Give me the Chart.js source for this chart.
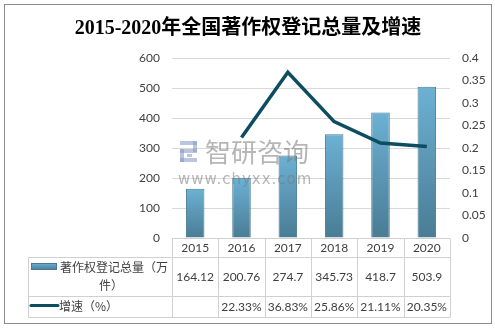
<!DOCTYPE html>
<html>
<head>
<meta charset="utf-8">
<script src="https://cdn.jsdelivr.net/npm/chart.js@4/dist/chart.umd.min.js"></script>
<style>
  html, body { margin: 0; padding: 0; background: #ffffff; }
  canvas { display: block; }
</style>
</head>
<body>
<canvas id="c" width="495" height="328"></canvas>
<script>
// Copyright registrations nationwide, 2015-2020
const years = ['2015', '2016', '2017', '2018', '2019', '2020'];
const totals = [164.12, 200.76, 274.7, 345.73, 418.7, 503.9];     // 万件
const growth = [null, 22.33, 36.83, 25.86, 21.11, 20.35];          // %
const titleText = '2015-2020年全国著作权登记总量及增速';
const seriesNames = ['著作权登记总量（万', '件）'];
const growthName = '增速（%）';

const TEXT = '#404040';
const GRID = '#d9d9d9';
const TABLE_LINE = '#d0d0d0';
const LINE_COLOR = '#0d4d62';
const NUM_FONT = '"Lato", "Liberation Sans", sans-serif';
const CJK_FONT = '"Noto Sans CJK SC", sans-serif';

// each bar fades from light blue at its top to a deeper tone at its base
function barGradient(ctx) {
  const chart = ctx.chart;
  const area = chart.chartArea;
  if (!area || ctx.type !== 'data') return '#5b9bbb';
  const yScale = chart.scales.y;
  const topY = yScale.getPixelForValue(ctx.raw);
  const g = chart.ctx.createLinearGradient(0, topY, 0, area.bottom);
  g.addColorStop(0, '#6cb1d4');
  g.addColorStop(1, '#4a7c94');
  return g;
}

const frameAndTitle = {
  id: 'frameAndTitle',
  beforeDraw(chart) {
    const ctx = chart.ctx;
    ctx.save();
    ctx.fillStyle = '#ffffff';
    ctx.fillRect(0, 0, chart.width, chart.height);
    ctx.restore();
  },
  afterDraw(chart) {
    const ctx = chart.ctx;
    ctx.save();
    ctx.strokeStyle = '#8c8c8c';
    ctx.lineWidth = 1;
    ctx.strokeRect(4.5, 4.5, 487, 319);
    ctx.fillStyle = '#000000';
    ctx.font = 'bold 20px "Liberation Serif", "Noto Sans CJK SC", serif';
    ctx.textAlign = 'center';
    ctx.textBaseline = 'middle';
    ctx.fillText(titleText, 248, 29);
    ctx.restore();
  }
};

const watermark = {
  id: 'watermark',
  afterDatasetsDraw(chart) {
    const ctx = chart.ctx;
    ctx.save();
    ctx.globalAlpha = 0.55;
    // logo blocks
    ctx.fillStyle = '#8496c4';
    ctx.fillRect(180, 141, 17, 4);
    ctx.fillRect(193, 141, 4, 11);
    ctx.fillRect(180, 149, 17, 4);
    ctx.fillRect(180, 149, 4, 13);
    ctx.fillRect(180, 158, 17, 4);
    ctx.fillRect(187, 154, 5, 3);
    ctx.fillStyle = '#7a7a7a';
    ctx.font = '26px "Noto Sans CJK SC", sans-serif';
    ctx.textAlign = 'left';
    ctx.textBaseline = 'middle';
    ctx.fillText('智研咨询', 205, 152);
    ctx.font = '15px "DejaVu Sans", sans-serif';
    ctx.letterSpacing = '1px';
    ctx.fillText('www.chyxx.com', 178, 180);
    ctx.restore();
  }
};

const dataTable = {
  id: 'dataTable',
  afterDraw(chart) {
    const ctx = chart.ctx;
    const xs = chart.scales.x;
    const area = chart.chartArea;
    const colW = (area.right - area.left) / years.length;
    const top = area.bottom + 0.5;
    const r1 = 257.5, r2 = 296.5, r3 = 317.5;
    const leftEdge = 28.5;
    ctx.save();
    ctx.strokeStyle = TABLE_LINE;
    ctx.lineWidth = 1;
    ctx.beginPath();
    ctx.moveTo(area.left, top); ctx.lineTo(area.right, top);
    [r1, r2, r3].forEach(y => { ctx.moveTo(leftEdge, y); ctx.lineTo(area.right, y); });
    ctx.moveTo(leftEdge, r1); ctx.lineTo(leftEdge, r3);
    for (let i = 0; i <= years.length; i++) {
      const x = Math.round(area.left + i * colW) + 0.5;
      ctx.moveTo(x, top); ctx.lineTo(x, r3);
    }
    ctx.stroke();

    ctx.fillStyle = TEXT;
    ctx.textAlign = 'center';
    ctx.textBaseline = 'middle';
    ctx.font = '12px ' + NUM_FONT;
    years.forEach((y, i) => {
      const cx = xs.getPixelForValue(i);
      ctx.fillText(y, cx, 248);
      ctx.fillText(String(totals[i]), cx, 277);
      if (growth[i] !== null) ctx.fillText(growth[i].toFixed(2) + '%', cx, 307);
    });

    // row headers with legend keys
    const sw = ctx.createLinearGradient(0, 263, 0, 270);
    sw.addColorStop(0, '#6cb1d4');
    sw.addColorStop(1, '#4a7c94');
    ctx.fillStyle = sw;
    ctx.fillRect(31, 263.5, 26, 6);
    ctx.strokeStyle = '#46798f';
    ctx.strokeRect(31.5, 263.5, 25, 6);
    ctx.strokeStyle = LINE_COLOR;
    ctx.lineWidth = 3;
    ctx.lineCap = 'round';
    ctx.beginPath();
    ctx.moveTo(31, 305.5); ctx.lineTo(58, 305.5);
    ctx.stroke();

    ctx.fillStyle = TEXT;
    ctx.font = '12px ' + CJK_FONT;
    ctx.textAlign = 'center';
    ctx.fillText(seriesNames[0], 114, 267);
    ctx.fillText(seriesNames[1], 111, 285);
    ctx.textAlign = 'left';
    ctx.fillText(growthName, 59, 306);
    ctx.restore();
  }
};

new Chart(document.getElementById('c'), {
  data: {
    labels: years,
    datasets: [
      {
        type: 'line',
        label: growthName,
        data: growth.map(v => v === null ? null : v / 100),
        yAxisID: 'y1',
        borderColor: LINE_COLOR,
        borderWidth: 3.5,
        pointRadius: 0,
        tension: 0,
        order: 0
      },
      {
        type: 'bar',
        label: seriesNames.join(''),
        data: totals,
        yAxisID: 'y',
        backgroundColor: barGradient,
        borderColor: '#46798f',
        borderWidth: 1,
        categoryPercentage: 0.8,
        barPercentage: 0.5,
        order: 1
      }
    ]
  },
  options: {
    responsive: false,
    animation: false,
    layout: { padding: { top: 58, bottom: 90, left: 0, right: 0 } },
    plugins: {
      legend: { display: false },
      title: { display: false },
      tooltip: { enabled: false }
    },
    scales: {
      x: { display: false, offset: true },
      y: {
        position: 'left',
        min: 0, max: 600,
        ticks: { stepSize: 100, padding: 12, color: TEXT, font: { family: NUM_FONT, size: 12 } },
        grid: { color: GRID, drawTicks: false },
        border: { display: false },
        afterFit(scale) { scale.width = 172; }
      },
      y1: {
        position: 'right',
        min: 0, max: 0.4,
        ticks: {
          stepSize: 0.05, padding: 12, color: TEXT, font: { family: NUM_FONT, size: 12 },
          callback: v => String(parseFloat(v.toFixed(2)))
        },
        grid: { display: false, drawTicks: false },
        border: { display: false },
        afterFit(scale) { scale.width = 45; }
      }
    }
  },
  plugins: [frameAndTitle, watermark, dataTable]
});
</script>
</body>
</html>
